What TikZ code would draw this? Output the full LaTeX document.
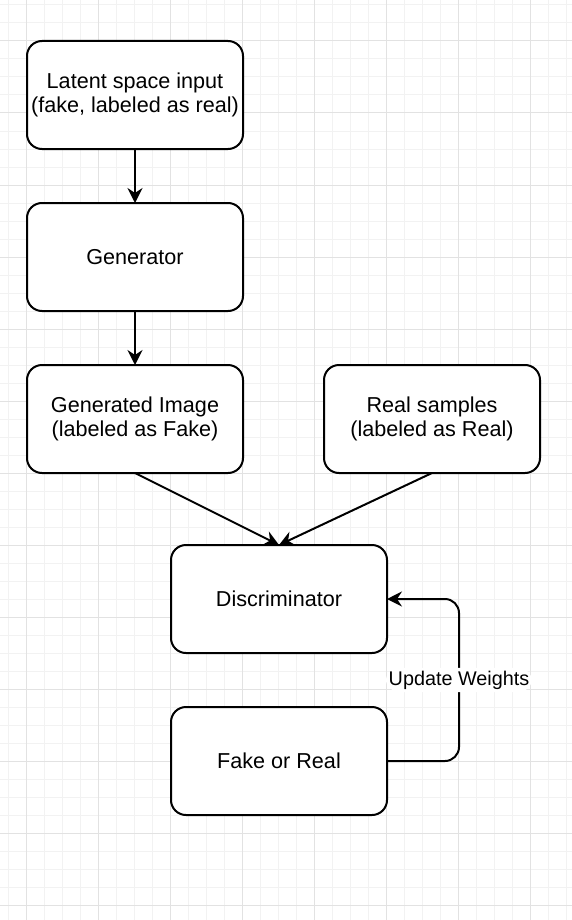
\documentclass[tikz,border=0pt]{standalone}
\usepackage{fontspec}
\setmainfont{Liberation Sans}
\usepackage{xcolor}
\usepackage{tikz}
\usetikzlibrary{arrows.meta, positioning, calc}

\definecolor{gridminor}{HTML}{F2F2F2}
\definecolor{gridmajor}{HTML}{E2E2E2}

\begin{document}
\begin{tikzpicture}[
    x=0.5pt, y=-0.5pt,
    node distance=27pt,
    stage/.style={rectangle, rounded corners=7.5pt, draw=black, line width=1pt, fill=white,
        minimum width=108pt, minimum height=54pt, inner sep=2pt, outer sep=0pt, align=center,
        font=\fontsize{10.8}{12.4}\selectfont},
    arrow/.style={line width=1pt, -{Stealth[length=7.5pt, width=7.5pt, inset=2.5pt]}, draw=black},
    tag/.style={fill=white, inner sep=1.5pt, font=\fontsize{9.9}{11.5}\selectfont}
]
    % Canvas and grid
    \useasboundingbox (0,0) rectangle (572,920);
    \fill[white] (0,0) rectangle (572,920);
    \foreach \x in {8,26,...,572} \draw[gridminor, line width=0.5pt] (\x,0) -- (\x,920);
    \foreach \y in {5,23,...,920} \draw[gridminor, line width=0.5pt] (0,\y) -- (572,\y);
    \foreach \x in {26,98,...,572} \draw[gridmajor, line width=0.5pt] (\x,0) -- (\x,920);
    \foreach \y in {41,113,...,920} \draw[gridmajor, line width=0.5pt] (0,\y) -- (572,\y);

    % Nodes
    \node (latent) [stage] at (135,95) {Latent space input\\(fake, labeled as real)};
    \node (gen) [stage, below=of latent] {Generator};
    \node (genimg) [stage, below=of gen] {Generated Image\\(labeled as Fake)};
    \node (real) [stage, right=40.5pt of genimg] {Real samples\\(labeled as Real)};
    \node (disc) [stage] at (279,599) {Discriminator};
    \node (verdict) [stage, below=of disc] {Fake or Real};

    % Flows
    \draw [arrow] (latent) -- (gen);
    \draw [arrow] (gen) -- (genimg);
    \draw [arrow] (genimg.south) -- (disc.north);
    \draw [arrow] (real.south) -- (disc.north);
    \draw [arrow, rounded corners=7pt] (verdict.east) -- ++(36pt,0)
        |- node[pos=0.25, tag] {Update Weights} (disc.east);

\end{tikzpicture}
\end{document}
